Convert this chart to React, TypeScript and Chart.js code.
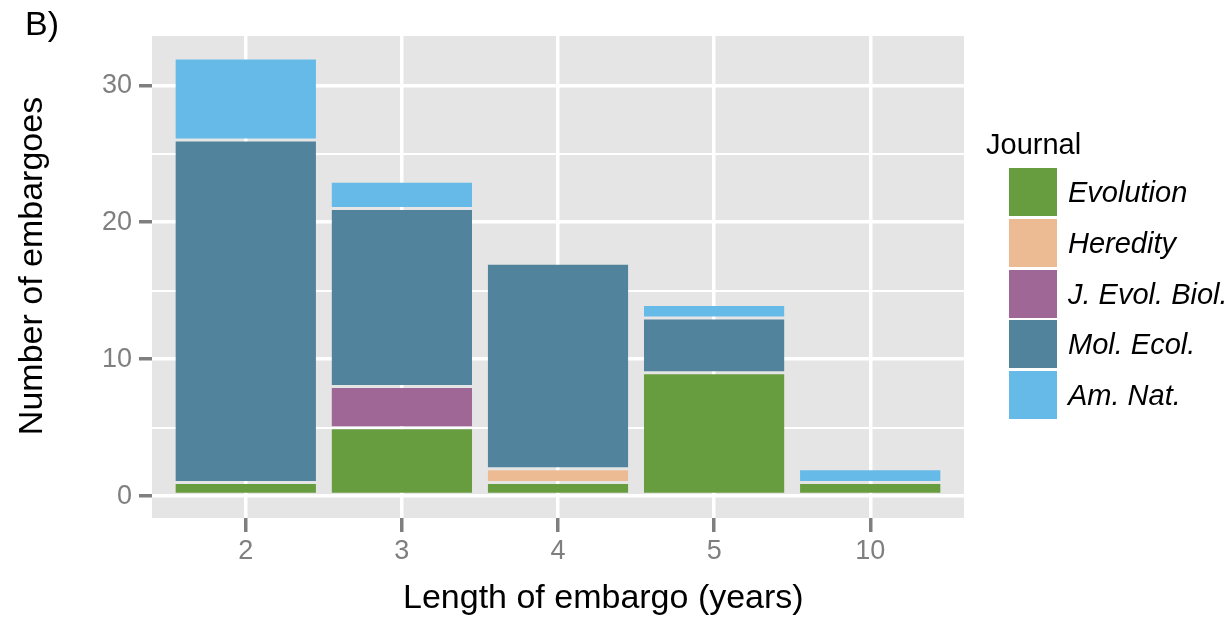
import React, { useEffect, useRef } from "react";
import { Chart, registerables } from "chart.js";

Chart.register(...registerables);

const categories = ["2", "3", "4", "5", "10"];
const journals = ["Evolution", "Heredity", "J. Evol. Biol.", "Mol. Ecol.", "Am. Nat."];
const journalColors = ["#689D3F", "#ECBB93", "#9E6796", "#52839D", "#66BAE8"];
const evolution = [1, 5, 1, 9, 1];
const heredity = [0, 0, 1, 0, 0];
const jEvolBiol = [0, 3, 0, 0, 0];
const molEcol = [25, 13, 15, 4, 0];
const amNat = [6, 2, 0, 1, 1];
const seriesValues = [evolution, heredity, jEvolBiol, molEcol, amNat];
const yTicks = [0, 5, 10, 15, 20, 25, 30];
const yLabelTicks = [0, 10, 20, 30];
const xTitle = "Length of embargo (years)";
const yTitle = "Number of embargoes";
const legendTitle = "Journal";
const panelLabel = "B)";

const FONT = "'Liberation Sans', Arial, Helvetica, sans-serif";
const TICK_GRAY = "#7F7F7F";

const panelBg = {
  id: "panelBg",
  beforeDraw(chart: any) {
    const { ctx, chartArea } = chart;
    ctx.save();
    ctx.fillStyle = "#E5E5E5";
    ctx.fillRect(chartArea.left, chartArea.top, chartArea.right - chartArea.left, chartArea.bottom - chartArea.top);
    ctx.restore();
  },
};

export default function App() {
  const canvasRef = useRef<HTMLCanvasElement | null>(null);

  useEffect(() => {
    if (!canvasRef.current) return;
    const datasets = journals.map((name, k) => ({
      label: name,
      data: categories.map((_, i) => ({ x: i, y: seriesValues[k][i] === 0 ? null : seriesValues[k][i] })),
      backgroundColor: journalColors[k],
      borderColor: "rgba(0,0,0,0)",
      borderWidth: { top: 1.5, bottom: 1.5, left: 0, right: 0 },
      borderSkipped: false,
      categoryPercentage: 0.9,
      barPercentage: 1,
    }));
    const chart = new Chart(canvasRef.current, {
      type: "bar",
      data: { datasets } as any,
      plugins: [panelBg],
      options: {
        animation: false,
        responsive: false,
        maintainAspectRatio: false,
        layout: { padding: { left: 0, top: 36, right: 268, bottom: 0 } },
        plugins: { legend: { display: false }, tooltip: { enabled: false }, title: { display: false } },
        scales: {
          x: {
            type: "linear",
            stacked: true,
            offset: false,
            min: -0.6,
            max: 4.6,
            afterBuildTicks: (scale: any) => {
              scale.ticks = categories.map((_, i) => ({ value: i }));
            },
            afterFit: (scale: any) => {
              scale.height = 100;
            },
            border: { display: false },
            grid: {
              offset: false,
              color: "#FFFFFF",
              lineWidth: 3.5,
              drawTicks: true,
              tickLength: 14,
              tickWidth: 3.5,
              tickColor: TICK_GRAY,
            },
            ticks: {
              autoSkip: false,
              maxRotation: 0,
              padding: 3,
              color: TICK_GRAY,
              font: { family: FONT, size: 27 },
              callback: (v: any) => categories[Math.round(Number(v))] ?? "",
            },
          },
          y: {
            type: "linear",
            stacked: true,
            min: -1.6,
            max: 33.6,
            afterBuildTicks: (scale: any) => {
              scale.ticks = yTicks.map((v) => ({ value: v }));
            },
            afterFit: (scale: any) => {
              scale.width = 152;
            },
            border: { display: false },
            grid: {
              color: "#FFFFFF",
              lineWidth: (ctx: any) => (yLabelTicks.includes(ctx.tick?.value) ? 3.5 : 2),
              drawTicks: true,
              tickLength: 13,
              tickWidth: 3.5,
              tickColor: (ctx: any) => (yLabelTicks.includes(ctx.tick?.value) ? TICK_GRAY : "rgba(0,0,0,0)"),
            },
            ticks: {
              autoSkip: false,
              padding: 7,
              color: TICK_GRAY,
              font: { family: FONT, size: 27 },
              callback: (v: any) => (yLabelTicks.includes(Number(v)) ? String(v) : ""),
            },
          },
        },
      } as any,
    });
    return () => chart.destroy();
  }, []);

  const textBase: React.CSSProperties = {
    position: "absolute",
    fontFamily: FONT,
    color: "#000",
    whiteSpace: "nowrap",
  };

  return (
    <div style={{ position: "fixed", left: 0, top: 0, width: 1232, height: 618, background: "#fff", overflow: "hidden" }}>
      <canvas ref={canvasRef} width={1232} height={618} style={{ position: "absolute", left: 0, top: 0, width: 1232, height: 618 }} />
      <div style={{ ...textBase, left: 25, top: 6, fontSize: 34, lineHeight: "34px" }}>{panelLabel}</div>
      <div style={{ ...textBase, left: 403, top: 579, fontSize: 34, lineHeight: "34px" }}>{xTitle}</div>
      <div
        style={{
          ...textBase,
          left: -170,
          top: 248.5,
          width: 400,
          height: 34,
          textAlign: "center",
          fontSize: 34,
          lineHeight: "34px",
          transform: "rotate(-90deg)",
          transformOrigin: "center center",
        }}
      >
        {yTitle}
      </div>
      <div style={{ ...textBase, left: 986, top: 129.5, fontSize: 29, lineHeight: "29px" }}>{legendTitle}</div>
      {journals.map((name, k) => (
        <React.Fragment key={name}>
          <div
            style={{
              position: "absolute",
              left: 1009,
              top: 168 + k * 50.8,
              width: 48,
              height: 48,
              background: journalColors[k],
            }}
          />
          <div
            style={{
              ...textBase,
              left: 1068,
              top: 168 + k * 50.8,
              height: 48,
              fontSize: 29,
              lineHeight: "48px",
              fontStyle: "italic",
            }}
          >
            {name}
          </div>
        </React.Fragment>
      ))}
    </div>
  );
}
